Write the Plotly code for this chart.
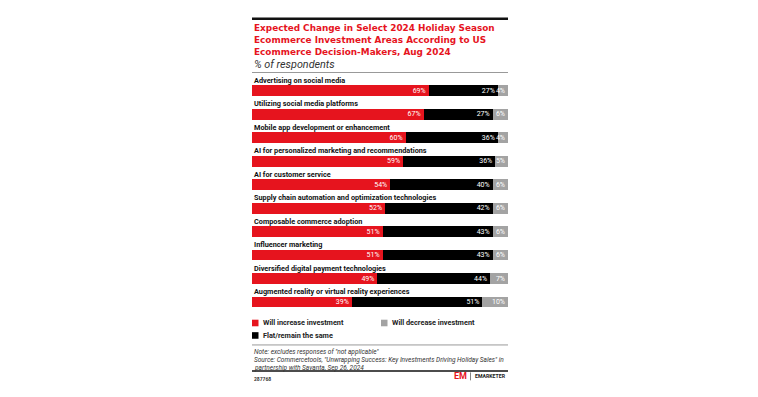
import plotly.graph_objects as go

categories = [
    "Advertising on social media",
    "Utilizing social media platforms",
    "Mobile app development or enhancement",
    "AI for personalized marketing and recommendations",
    "AI for customer service",
    "Supply chain automation and optimization technologies",
    "Composable commerce adoption",
    "Influencer marketing",
    "Diversified digital payment technologies",
    "Augmented reality or virtual reality experiences",
]
increase = [69, 67, 60, 59, 54, 52, 51, 51, 49, 39]
flat = [27, 27, 36, 36, 40, 42, 43, 43, 44, 51]
decrease = [4, 6, 4, 5, 6, 6, 6, 6, 7, 10]
series_names = ["Will increase investment", "Flat/remain the same", "Will decrease investment"]

RED = "#E6141E"
BLACK = "#000000"
GRAY = "#A3A3A3"
FONT = "Roboto"
TITLE_FONT = "DejaVu Sans"

W, H = 758, 397
L, R = 252, 508
T, B = 78.5, 319


def py(p):
    return (B - p) / (B - T)


def pxx(p):
    return (p - L) / (R - L)


fig = go.Figure()
for name, vals, color in zip(series_names, [increase, flat, decrease], [RED, BLACK, GRAY]):
    fig.add_trace(go.Bar(
        y=categories, x=vals, orientation="h", name=name,
        marker=dict(color=color, line=dict(width=0)),
        text=[f"{v}%" for v in vals], textposition="inside",
        insidetextanchor="end", textangle=0,
        textfont=dict(color="white", size=7, family=FONT),
        width=0.46, showlegend=False, hoverinfo="skip",
    ))

annotations = []
# category labels
for c in categories:
    annotations.append(dict(x=0, xref="paper", y=c, yref="y", yshift=10.5,
                            text=f"<b>{c}</b>", showarrow=False, xanchor="left",
                            yanchor="middle", font=dict(size=7.3, color="#111", family=FONT)))

# title
title_lines = ["Expected Change in Select 2024 Holiday Season",
               "Ecommerce Investment Areas According to US",
               "Ecommerce Decision-Makers, Aug 2024"]
for i, t in enumerate(title_lines):
    annotations.append(dict(x=0, xref="paper", y=py(27.3 + i * 12.3), yref="paper",
                            text=f"<b>{t}</b>", showarrow=False, xanchor="left", yanchor="middle",
                            font=dict(size=8.9, color=RED, family=TITLE_FONT)))
annotations.append(dict(x=0, xref="paper", y=py(64), yref="paper",
                        text="<i>% of respondents</i>", showarrow=False, xanchor="left", yanchor="middle",
                        font=dict(size=10.8, color="#333", family=FONT)))

# legend (manual)
legend_items = [(series_names[0], RED, 252, 323), (series_names[2], GRAY, 381, 323), (series_names[1], BLACK, 252, 335.5)]
shapes = []
for name, color, lx, ly in legend_items:
    shapes.append(dict(type="rect", xref="paper", yref="paper", x0=pxx(lx), x1=pxx(lx + 6.5),
                       y0=py(ly - 3.3), y1=py(ly + 3.3), fillcolor=color, line=dict(width=0)))
    annotations.append(dict(x=pxx(lx + 8.5), xref="paper", y=py(ly), yref="paper",
                            text=f"<b>{name}</b>", showarrow=False, xanchor="left", yanchor="middle",
                            font=dict(size=7.3, color="#222", family=FONT)))

# footnotes
notes = ['Note: excludes responses of "not applicable"',
         'Source: Commercetools, "Unwrapping Success: Key Investments Driving Holiday Sales" in',
         'partnership with Savanta, Sep 26, 2024']
for i, t in enumerate(notes):
    annotations.append(dict(x=0, xref="paper", y=py(352 + i * 8), yref="paper",
                            text=f"<i>{t}</i>", showarrow=False, xanchor="left", yanchor="middle",
                            font=dict(size=6.5, color="#333", family=FONT)))
annotations.append(dict(x=0, xref="paper", y=py(379.5), yref="paper",
                        text="<b>287768</b>", showarrow=False, xanchor="left", yanchor="middle",
                        font=dict(size=5, color="#333", family=FONT)))
# logo
annotations.append(dict(x=pxx(469), xref="paper", y=py(376.5), yref="paper",
                        text="<b>EM</b>", showarrow=False, xanchor="right", yanchor="middle",
                        font=dict(size=9, color=RED, family=FONT)))
annotations.append(dict(x=1, xref="paper", y=py(376.5), yref="paper",
                        text="<b>EMARKETER</b>", showarrow=False, xanchor="right", yanchor="middle",
                        font=dict(size=5.2, color="#222", family=FONT)))
shapes.append(dict(type="line", xref="paper", yref="paper", x0=pxx(470.5), x1=pxx(470.5),
                   y0=py(372.5), y1=py(380.5), line=dict(color="#666", width=0.8)))

# rules
shapes.append(dict(type="line", xref="paper", yref="paper", x0=0, x1=1, y0=py(18), y1=py(18),
                   line=dict(color="#111", width=2.5)))
shapes.append(dict(type="line", xref="paper", yref="paper", x0=0, x1=1, y0=py(72), y1=py(72),
                   line=dict(color="#999", width=1)))
shapes.append(dict(type="line", xref="paper", yref="paper", x0=0, x1=1, y0=py(345), y1=py(345),
                   line=dict(color="#999", width=1)))
shapes.append(dict(type="line", xref="paper", yref="paper", x0=0, x1=1, y0=py(371), y1=py(371),
                   line=dict(color="#111", width=1.5)))

fig.update_layout(
    barmode="stack", width=W, height=H,
    margin=dict(l=L, r=W - R, t=T, b=H - B, pad=0),
    paper_bgcolor="white", plot_bgcolor="white",
    xaxis=dict(visible=False, range=[0, 100], fixedrange=True),
    yaxis=dict(visible=False, categoryorder="array", categoryarray=categories,
               autorange="reversed", fixedrange=True),
    uniformtext=dict(minsize=7, mode="show"),
    annotations=annotations, shapes=shapes,
    font=dict(family=FONT), showlegend=False,
)
fig.write_html("out.html", config={"displayModeBar": False},
               post_script="document.body.style.margin='0';document.body.style.overflow='hidden';")
